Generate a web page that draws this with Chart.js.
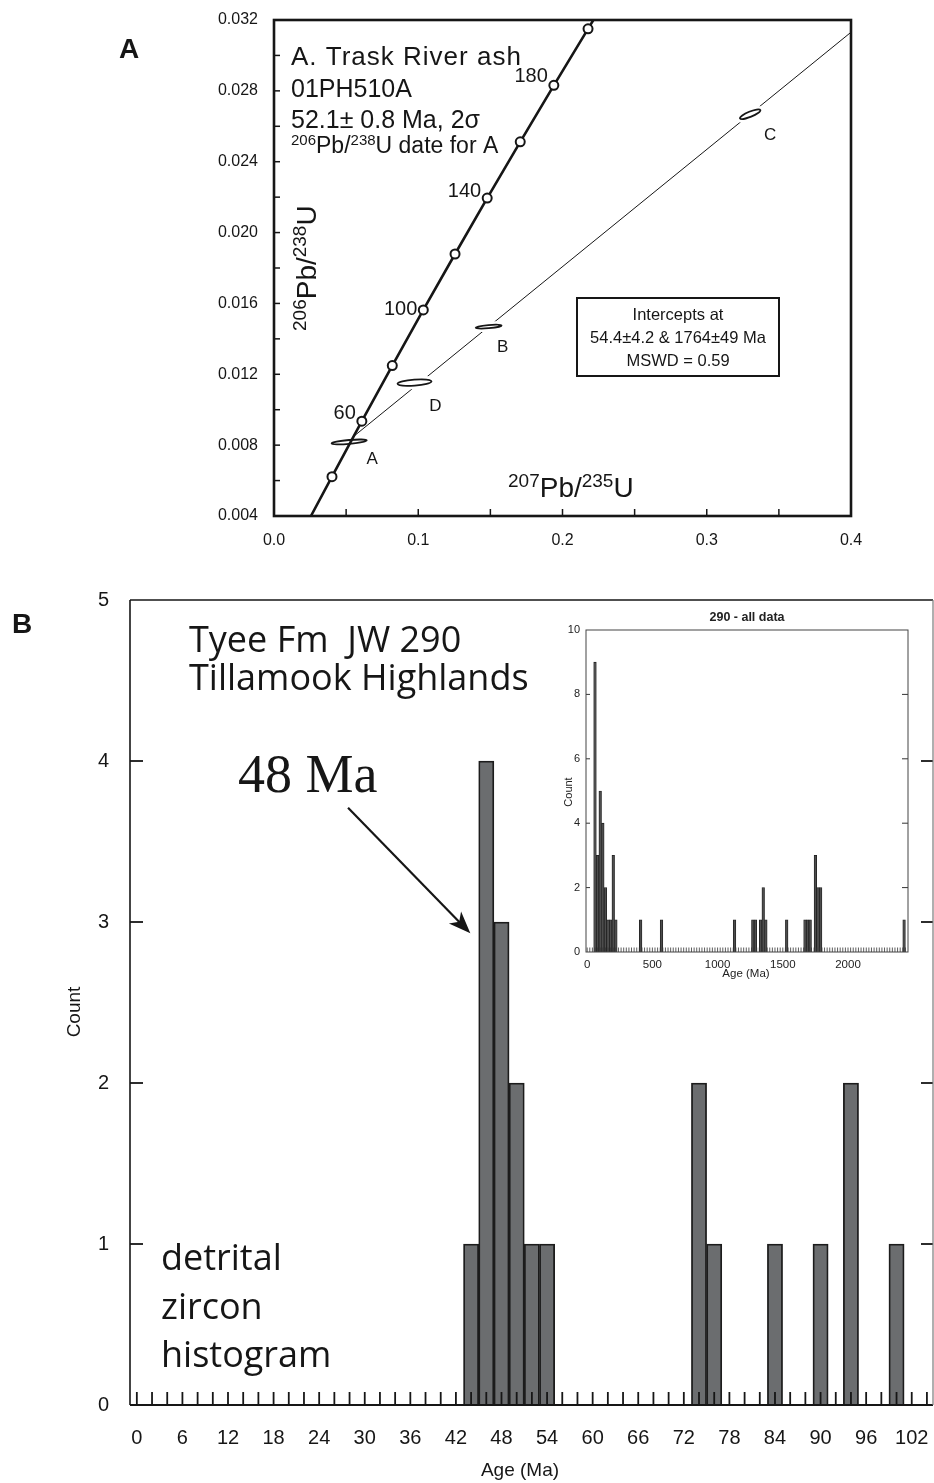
<!DOCTYPE html>
<html>
<head>
<meta charset="utf-8">
<script src="https://cdn.jsdelivr.net/npm/chart.js@4.4.1/dist/chart.umd.min.js"></script>
<style>
	html, body { margin: 0; padding: 0; background: #fff; }
	body { width: 934px; height: 1483px; position: relative; overflow: hidden; }
	canvas { position: absolute; }
	#cA { left: 0; top: 0; width: 934px; height: 575px; }
	#cB { left: 0; top: 575px; width: 934px; height: 908px; }
	#cI { left: 540px; top: 605px; width: 380px; height: 380px; }
</style>
</head>
<body>
<canvas id="cA" width="934" height="575"></canvas>
<canvas id="cB" width="934" height="908"></canvas>
<canvas id="cI" width="380" height="380"></canvas>
<script>
// ---- Panel A: concordia diagram, Trask River ash ----
// concordia curve (age in Ma and the two ratios at that age)
const concAge = [26, 40, 60, 80, 100, 120, 140, 160, 180, 200, 203];
const concX = [0.0256, 0.0402, 0.0609, 0.0820, 0.1035, 0.1255, 0.1478, 0.1707, 0.1940, 0.2177, 0.2214];
const concY = [0.0040, 0.00622, 0.00935, 0.01249, 0.01563, 0.01879, 0.02195, 0.02512, 0.02831, 0.03150, 0.0320];
const concLabelled = [60, 100, 140, 180];

// discordia: lower intercept to the right edge of the plot
const discX = [0.0550, 0.400];
const discY = [0.00848, 0.03131];

// zircon analyses with 2-sigma half widths
const spotNames = ['A', 'D', 'B', 'C'];
const spotX = [0.0521, 0.0974, 0.1488, 0.3301];
const spotY = [0.00818, 0.01153, 0.01469, 0.02668];
const spotErrX = [0.0122, 0.0118, 0.0090, 0.0076];
const spotErrY = [0.00011, 0.00017, 0.00009, 0.00015];

// ---- Panel B: detrital zircon histogram (2 Ma bins) ----
const ageBins = [44, 46, 48, 50, 52, 54, 74, 76, 84, 90, 94, 100];
const ageCounts = [1, 4, 3, 2, 1, 1, 2, 1, 1, 1, 2, 1];

// inset: all data, 20 Ma bins
const allAges = [60, 80, 100, 120, 140, 160, 180, 200, 220, 410, 570, 1130, 1270, 1290, 1330, 1350, 1370, 1530, 1670, 1690, 1710, 1750, 1770, 1790, 2430];
const allCounts = [9, 3, 5, 4, 2, 1, 1, 3, 1, 1, 1, 1, 1, 1, 1, 2, 1, 1, 1, 1, 1, 3, 2, 2, 1];
const insetTicks = [0, 500, 1000, 1500, 2000];

// styles
const SANS = "'Liberation Sans', Arial, sans-serif";
const HUMAN = "'Open Sans', sans-serif";
const SERIF = "'Liberation Serif', serif";
const INK = '#161616';
const concLabelDy = [-2, 5, -1, -3];
const spotTilt = [-5, -4, -5, -22];
const spotLabelOff = [[23, 17], [21, 24], [14, 21], [20, 21]];
const TOP_B = 575;

Chart.defaults.color = INK;

function line(ctx, x1, y1, x2, y2) {
	ctx.beginPath();
	ctx.moveTo(x1, y1);
	ctx.lineTo(x2, y2);
	ctx.stroke();
}

// text made of runs: [text, size, rise]
function rich(ctx, parts, x, y, family, align) {
	let w = 0;
	parts.forEach(p => { ctx.font = p[1] + 'px ' + family; w += ctx.measureText(p[0]).width; });
	let cx = align === 'center' ? x - w / 2 : align === 'right' ? x - w : x;
	ctx.textAlign = 'left';
	ctx.textBaseline = 'alphabetic';
	parts.forEach(p => {
		ctx.font = p[1] + 'px ' + family;
		ctx.fillText(p[0], cx, y - (p[2] || 0));
		cx += ctx.measureText(p[0]).width;
	});
}

function text(ctx, s, x, y, font, align, base) {
	ctx.font = font;
	ctx.textAlign = align || 'left';
	ctx.textBaseline = base || 'alphabetic';
	ctx.fillText(s, x, y);
}

// keep the plot box where the layout padding puts it
function fixBox(size, key) {
	return s => {
		s[key] = size;
		s.paddingTop = s.paddingBottom = s.paddingLeft = s.paddingRight = 0;
	};
}

// Panel A decorations
const plotA = {
	id: 'plotA',
	afterDatasetDraw(chart, args) {
		if (args.index !== 1) return; // ellipses sit above the discordia, under the concordia
		const { ctx, scales: { x, y } } = chart;
		ctx.save();
		spotX.forEach((sx, i) => {
			const cx = x.getPixelForValue(sx), cy = y.getPixelForValue(spotY[i]);
			const rx = x.getPixelForValue(sx + spotErrX[i]) - cx;
			const ry = cy - y.getPixelForValue(spotY[i] + spotErrY[i]);
			ctx.save();
			ctx.translate(cx, cy);
			ctx.rotate(spotTilt[i] * Math.PI / 180);
			ctx.beginPath();
			ctx.ellipse(0, 0, rx, ry, 0, 0, 2 * Math.PI);
			ctx.strokeStyle = '#fff'; ctx.lineWidth = 7; ctx.stroke();
			ctx.fillStyle = '#fff'; ctx.fill();
			ctx.strokeStyle = INK; ctx.lineWidth = 1.8; ctx.stroke();
			ctx.restore();
			ctx.fillStyle = INK;
			text(ctx, spotNames[i], cx + spotLabelOff[i][0], cy + spotLabelOff[i][1], '17px ' + SANS, 'center', 'middle');
		});
		ctx.restore();
	},
	afterDraw(chart) {
		const { ctx, chartArea: a, scales: { x, y } } = chart;
		ctx.save();
		ctx.strokeStyle = INK;
		ctx.fillStyle = INK;
		ctx.lineWidth = 1.5;
		y.ticks.forEach(t => { const py = y.getPixelForValue(t.value); line(ctx, a.left, py, a.left + 6, py); });
		x.ticks.forEach(t => { const px = x.getPixelForValue(t.value); line(ctx, px, a.bottom, px, a.bottom - 7); });
		ctx.lineWidth = 2.6;
		ctx.strokeRect(a.left, a.top, a.right - a.left, a.bottom - a.top);

		// age labels along the concordia
		concLabelled.forEach((age, k) => {
			const i = concAge.indexOf(age);
			const px = x.getPixelForValue(concX[i]), py = y.getPixelForValue(concY[i]);
			text(ctx, String(age), px - 6, py + concLabelDy[k], '20px ' + SANS, 'right');
		});

		text(ctx, 'A', 119, 58, 'bold 28px ' + SANS);
		ctx.save();
		ctx.letterSpacing = '1px';
		text(ctx, 'A. Trask River ash', 291, 65, '26px ' + SANS);
		ctx.restore();
		text(ctx, '01PH510A', 291, 97, '25px ' + SANS);
		text(ctx, '52.1\u00b1 0.8 Ma, 2\u03c3', 291, 128, '25px ' + SANS);
		rich(ctx, [['206', 15, 8], ['Pb/', 23, 0], ['238', 15, 8], ['U date for A', 23, 0]], 291, 153, SANS, 'left');

		// intercept box
		ctx.lineWidth = 2;
		ctx.strokeRect(577, 298, 202, 78);
		text(ctx, 'Intercepts at', 678, 320, '16.5px ' + SANS, 'center');
		text(ctx, '54.4\u00b14.2 & 1764\u00b149 Ma', 678, 343, '16.5px ' + SANS, 'center');
		text(ctx, 'MSWD = 0.59', 678, 366, '16.5px ' + SANS, 'center');

		// axis titles
		rich(ctx, [['207', 19, 10], ['Pb/', 28, 0], ['235', 19, 10], ['U', 28, 0]], 508, 497, SANS, 'left');
		ctx.save();
		ctx.translate(316, 331);
		ctx.rotate(-Math.PI / 2);
		rich(ctx, [['206', 19, 10], ['Pb/', 28, 0], ['238', 19, 10], ['U', 28, 0]], 0, 0, SANS, 'left');
		ctx.restore();
		ctx.restore();
	}
};

new Chart(document.getElementById('cA'), {
	type: 'scatter',
	data: {
		datasets: [
			{
				label: 'concordia',
				data: concX.map((v, i) => ({ x: v, y: concY[i] })),
				showLine: true,
				borderColor: INK,
				borderWidth: 2.6,
				pointRadius: concAge.map(a => a % 20 === 0 ? 4.5 : 0),
				pointBackgroundColor: '#fff',
				pointBorderColor: INK,
				pointBorderWidth: 2
			},
			{
				label: 'discordia',
				data: discX.map((v, i) => ({ x: v, y: discY[i] })),
				showLine: true,
				borderColor: INK,
				borderWidth: 1,
				pointRadius: 0
			}
		]
	},
	options: {
		responsive: false,
		animation: false,
		layout: { padding: { left: 0, top: 20, right: 83, bottom: 0 } },
		plugins: { legend: { display: false }, tooltip: { enabled: false } },
		scales: {
			x: {
				type: 'linear', min: 0, max: 0.4,
				grid: { display: false, drawTicks: false }, border: { display: false },
				ticks: {
					stepSize: 0.05, maxRotation: 0, autoSkip: false, padding: 15,
					font: { family: SANS, size: 16 }, color: INK,
					callback: v => Math.round(v * 100) % 10 === 0 ? v.toFixed(1) : ''
				},
				afterFit: fixBox(59, 'height')
			},
			y: {
				type: 'linear', min: 0.004, max: 0.032,
				grid: { display: false, drawTicks: false }, border: { display: false },
				ticks: {
					stepSize: 0.002, autoSkip: false, padding: 16,
					font: { family: SANS, size: 16 }, color: INK,
					callback: v => Math.round(v * 1000) % 4 === 0 ? v.toFixed(3) : ''
				},
				afterFit: fixBox(274, 'width')
			}
		}
	},
	plugins: [plotA]
});

// Panel B decorations
const plotB = {
	id: 'plotB',
	afterDatasetsDraw(chart) {
		const { ctx, chartArea: a, scales: { x, y } } = chart;
		ctx.save();
		ctx.strokeStyle = INK;
		ctx.lineWidth = 1.8;
		x.ticks.forEach(t => { const px = x.getPixelForValue(t.value); line(ctx, px, a.bottom, px, a.bottom - 13); });
		y.ticks.forEach(t => {
			if (t.value === 0 || t.value === 5) return;
			const py = y.getPixelForValue(t.value);
			line(ctx, a.left, py, a.left + 13, py);
			line(ctx, a.right, py, a.right - 12, py);
		});
		// frame
		ctx.lineWidth = 1.6;
		line(ctx, a.left, a.top, a.right, a.top);
		line(ctx, a.left, a.top, a.left, a.bottom);
		ctx.lineWidth = 2.2;
		line(ctx, a.left, a.bottom, a.right, a.bottom);
		ctx.strokeStyle = '#7a7a7a';
		ctx.lineWidth = 1.2;
		line(ctx, a.right, a.top, a.right, a.bottom);

		// arrow to the 48 Ma peak
		const tx = x.getPixelForValue(27.8), ty = y.getPixelForValue(3.71);
		const hx = x.getPixelForValue(43.9), hy = y.getPixelForValue(2.93);
		const ang = Math.atan2(hy - ty, hx - tx);
		ctx.strokeStyle = INK;
		ctx.fillStyle = INK;
		ctx.lineWidth = 2.2;
		line(ctx, tx, ty, hx - 12 * Math.cos(ang), hy - 12 * Math.sin(ang));
		ctx.save();
		ctx.translate(hx, hy);
		ctx.rotate(ang);
		ctx.beginPath();
		ctx.moveTo(0, 0);
		ctx.lineTo(-22, -8.5);
		ctx.lineTo(-16, 0);
		ctx.lineTo(-22, 8.5);
		ctx.closePath();
		ctx.fill();
		ctx.restore();

		// annotations (page coordinates)
		ctx.translate(0, -TOP_B);
		ctx.fillStyle = INK;
		text(ctx, 'B', 12, 633, 'bold 28px ' + SANS);
		text(ctx, 'Tyee Fm  JW 290', 189, 652, '36px ' + HUMAN);
		text(ctx, 'Tillamook Highlands', 189, 690, '36px ' + HUMAN);
		text(ctx, '48 Ma', 238, 792, '54px ' + SERIF);
		text(ctx, 'detrital', 161, 1270, '36px ' + HUMAN);
		text(ctx, 'zircon', 161, 1319, '36px ' + HUMAN);
		text(ctx, 'histogram', 161, 1367, '36px ' + HUMAN);
		text(ctx, 'Age (Ma)', 520, 1471, '19px ' + SANS, 'center', 'middle');
		ctx.save();
		ctx.translate(75, 1012);
		ctx.rotate(-Math.PI / 2);
		text(ctx, 'Count', 0, 0, '19px ' + SANS, 'center', 'middle');
		ctx.restore();
		ctx.restore();
	}
};

new Chart(document.getElementById('cB'), {
	type: 'bar',
	data: {
		datasets: [{
			data: ageBins.map((v, i) => ({ x: v, y: ageCounts[i] })),
			backgroundColor: '#6b6d6f',
			borderColor: '#1c1c1c',
			borderWidth: 1.8,
			barPercentage: 1,
			categoryPercentage: 1
		}]
	},
	options: {
		responsive: false,
		animation: false,
		layout: { padding: { left: 0, top: 25, right: 1, bottom: 0 } },
		plugins: { legend: { display: false }, tooltip: { enabled: false } },
		scales: {
			x: {
				type: 'linear', min: -0.9, max: 104.8, offset: false,
				grid: { display: false, drawTicks: false, offset: false }, border: { display: false },
				ticks: {
					stepSize: 2, includeBounds: false, autoSkip: false, maxRotation: 0, padding: 21,
					font: { family: SANS, size: 20 }, color: INK,
					callback: v => v % 6 === 0 ? String(v) : ''
				},
				afterFit: fixBox(78, 'height')
			},
			y: {
				min: 0, max: 5,
				grid: { display: false, drawTicks: false }, border: { display: false },
				ticks: { stepSize: 1, padding: 21, font: { family: SANS, size: 20 }, color: INK },
				afterFit: fixBox(130, 'width')
			}
		}
	},
	plugins: [plotB]
});

// Inset decorations
const plotI = {
	id: 'plotI',
	afterDatasetsDraw(chart) {
		const { ctx, chartArea: a, scales: { x, y } } = chart;
		ctx.save();
		ctx.strokeStyle = '#333';
		ctx.lineWidth = 0.8;
		for (let v = 0; v <= 2440; v += 20) {
			const px = x.getPixelForValue(v);
			line(ctx, px, a.bottom, px, a.bottom - 4.5);
		}
		ctx.lineWidth = 1;
		y.ticks.forEach(t => {
			if (t.value === 0 || t.value === 10) return;
			const py = y.getPixelForValue(t.value);
			line(ctx, a.left, py, a.left + 4, py);
			line(ctx, a.right, py, a.right - 6, py);
		});
		ctx.strokeStyle = '#444';
		ctx.strokeRect(a.left, a.top, a.right - a.left, a.bottom - a.top);
		ctx.fillStyle = '#222';
		text(ctx, '290 - all data', (a.left + a.right) / 2, 13, 'bold 12.5px ' + SANS, 'center', 'middle');
		text(ctx, 'Age (Ma)', 206, 369, '11.5px ' + SANS, 'center', 'middle');
		ctx.save();
		ctx.translate(29, 187);
		ctx.rotate(-Math.PI / 2);
		text(ctx, 'Count', 0, 0, '11px ' + SANS, 'center', 'middle');
		ctx.restore();
		ctx.restore();
	}
};

new Chart(document.getElementById('cI'), {
	type: 'bar',
	data: {
		datasets: [{
			data: allAges.map((v, i) => ({ x: v, y: allCounts[i] })),
			backgroundColor: '#4d4d4d',
			borderColor: '#1e1e1e',
			borderWidth: 0.8,
			barPercentage: 1,
			categoryPercentage: 1
		}]
	},
	options: {
		responsive: false,
		animation: false,
		layout: { padding: { left: 0, top: 25, right: 12, bottom: 0 } },
		plugins: { legend: { display: false }, tooltip: { enabled: false } },
		scales: {
			x: {
				type: 'linear', min: -9, max: 2460, offset: false,
				grid: { display: false, drawTicks: false, offset: false }, border: { display: false },
				ticks: {
					autoSkip: false, maxRotation: 0, padding: 6,
					font: { family: SANS, size: 11.5 }, color: '#222',
					callback: v => String(v)
				},
				afterBuildTicks: s => { s.ticks = insetTicks.map(v => ({ value: v })); },
				afterFit: fixBox(33, 'height')
			},
			y: {
				min: 0, max: 10,
				grid: { display: false, drawTicks: false }, border: { display: false },
				ticks: { stepSize: 2, padding: 6, font: { family: SANS, size: 11 }, color: '#222' },
				afterFit: fixBox(46, 'width')
			}
		}
	},
	plugins: [plotI]
});
</script>
</body>
</html>
